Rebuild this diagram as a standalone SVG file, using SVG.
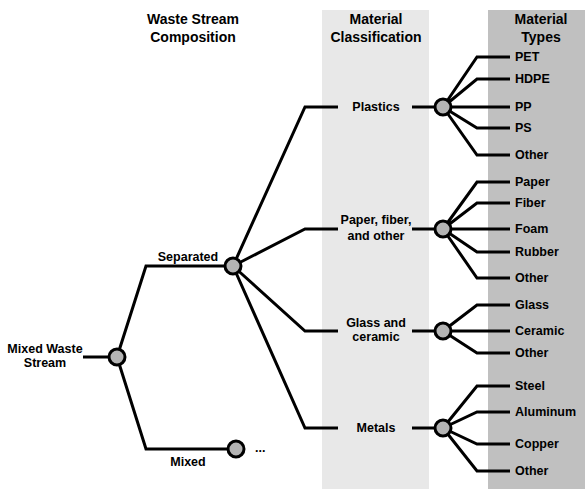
<svg xmlns="http://www.w3.org/2000/svg" width="585" height="489" viewBox="0 0 585 489">
<style>
.ln{fill:none;stroke:#000;stroke-width:3;stroke-linejoin:miter}
.nd{fill:#b4b4b4;stroke:#000;stroke-width:3}
text{font-family:"Liberation Sans",Arial,sans-serif;font-weight:bold;font-size:12.5px;fill:#000}
.h{font-size:14px;text-anchor:middle}
.c{text-anchor:middle}
</style>
<rect x="322" y="10" width="107" height="479" fill="#e8e8e8"/>
<rect x="488" y="10" width="97" height="479" fill="#c0c0c0"/>
<g id="headers">
<text class="h" x="193" y="24">Waste Stream</text>
<text class="h" x="193" y="42">Composition</text>
<text class="h" x="376" y="24">Material</text>
<text class="h" x="376" y="42">Classification</text>
<text class="h" x="541" y="24">Material</text>
<text class="h" x="541" y="42">Types</text>
</g>
<g id="connectors">
<path class="ln" d="M83,357H117"/>
<path class="ln" d="M117,357L146,266H233"/>
<path class="ln" d="M117,357L146,449H236"/>
<path class="ln" d="M233,266L305,107H338"/>
<path class="ln" d="M233,266L305,229H338"/>
<path class="ln" d="M233,266L305,331H338"/>
<path class="ln" d="M233,266L305,428H338"/>
<path class="ln" d="M412,107H443"/>
<path class="ln" d="M412,229H443"/>
<path class="ln" d="M412,331H443"/>
<path class="ln" d="M412,428H443"/>
<path class="ln" d="M443,107L477,57H510M443,107L477,79H510M443,107H510M443,107L477,128H510M443,107L477,155H510"/>
<path class="ln" d="M443,229L477,182H510M443,229L477,203H510M443,229H510M443,229L477,252H510M443,229L477,278H510"/>
<path class="ln" d="M443,331L477,305H510M443,331H510M443,331L477,353H510"/>
<path class="ln" d="M443,428L477,386H510M443,428L477,412H510M443,428L477,444H510M443,428L477,471H510"/>
</g>
<g id="mixed-waste-stream">
<circle class="nd" cx="117" cy="357" r="8"/>
<text class="c" x="45" y="353">Mixed Waste</text>
<text class="c" x="45" y="367">Stream</text>
</g>
<g id="separated">
<circle class="nd" cx="233" cy="266" r="8"/>
<text class="c" x="188" y="261">Separated</text>
</g>
<g id="mixed">
<circle class="nd" cx="236" cy="449" r="8"/>
<text class="c" x="188" y="466">Mixed</text>
<text x="255" y="452">...</text>
</g>
<g id="plastics">
<circle class="nd" cx="443" cy="107" r="8"/>
<text class="c" x="376" y="111">Plastics</text>
</g>
<g id="paper">
<circle class="nd" cx="443" cy="229" r="8"/>
<text class="c" x="376" y="224">Paper, fiber,</text>
<text class="c" x="376" y="240">and other</text>
</g>
<g id="glass">
<circle class="nd" cx="443" cy="331" r="8"/>
<text class="c" x="376" y="327">Glass and</text>
<text class="c" x="376" y="341">ceramic</text>
</g>
<g id="metals">
<circle class="nd" cx="443" cy="428" r="8"/>
<text class="c" x="376" y="432">Metals</text>
</g>
<g id="types">
<text x="515" y="61">PET</text>
<text x="515" y="83">HDPE</text>
<text x="515" y="111">PP</text>
<text x="515" y="132">PS</text>
<text x="515" y="159">Other</text>
<text x="515" y="186">Paper</text>
<text x="515" y="207">Fiber</text>
<text x="515" y="233">Foam</text>
<text x="515" y="256">Rubber</text>
<text x="515" y="282">Other</text>
<text x="515" y="309">Glass</text>
<text x="515" y="335">Ceramic</text>
<text x="515" y="357">Other</text>
<text x="515" y="390">Steel</text>
<text x="515" y="416">Aluminum</text>
<text x="515" y="448">Copper</text>
<text x="515" y="475">Other</text>
</g>
</svg>
